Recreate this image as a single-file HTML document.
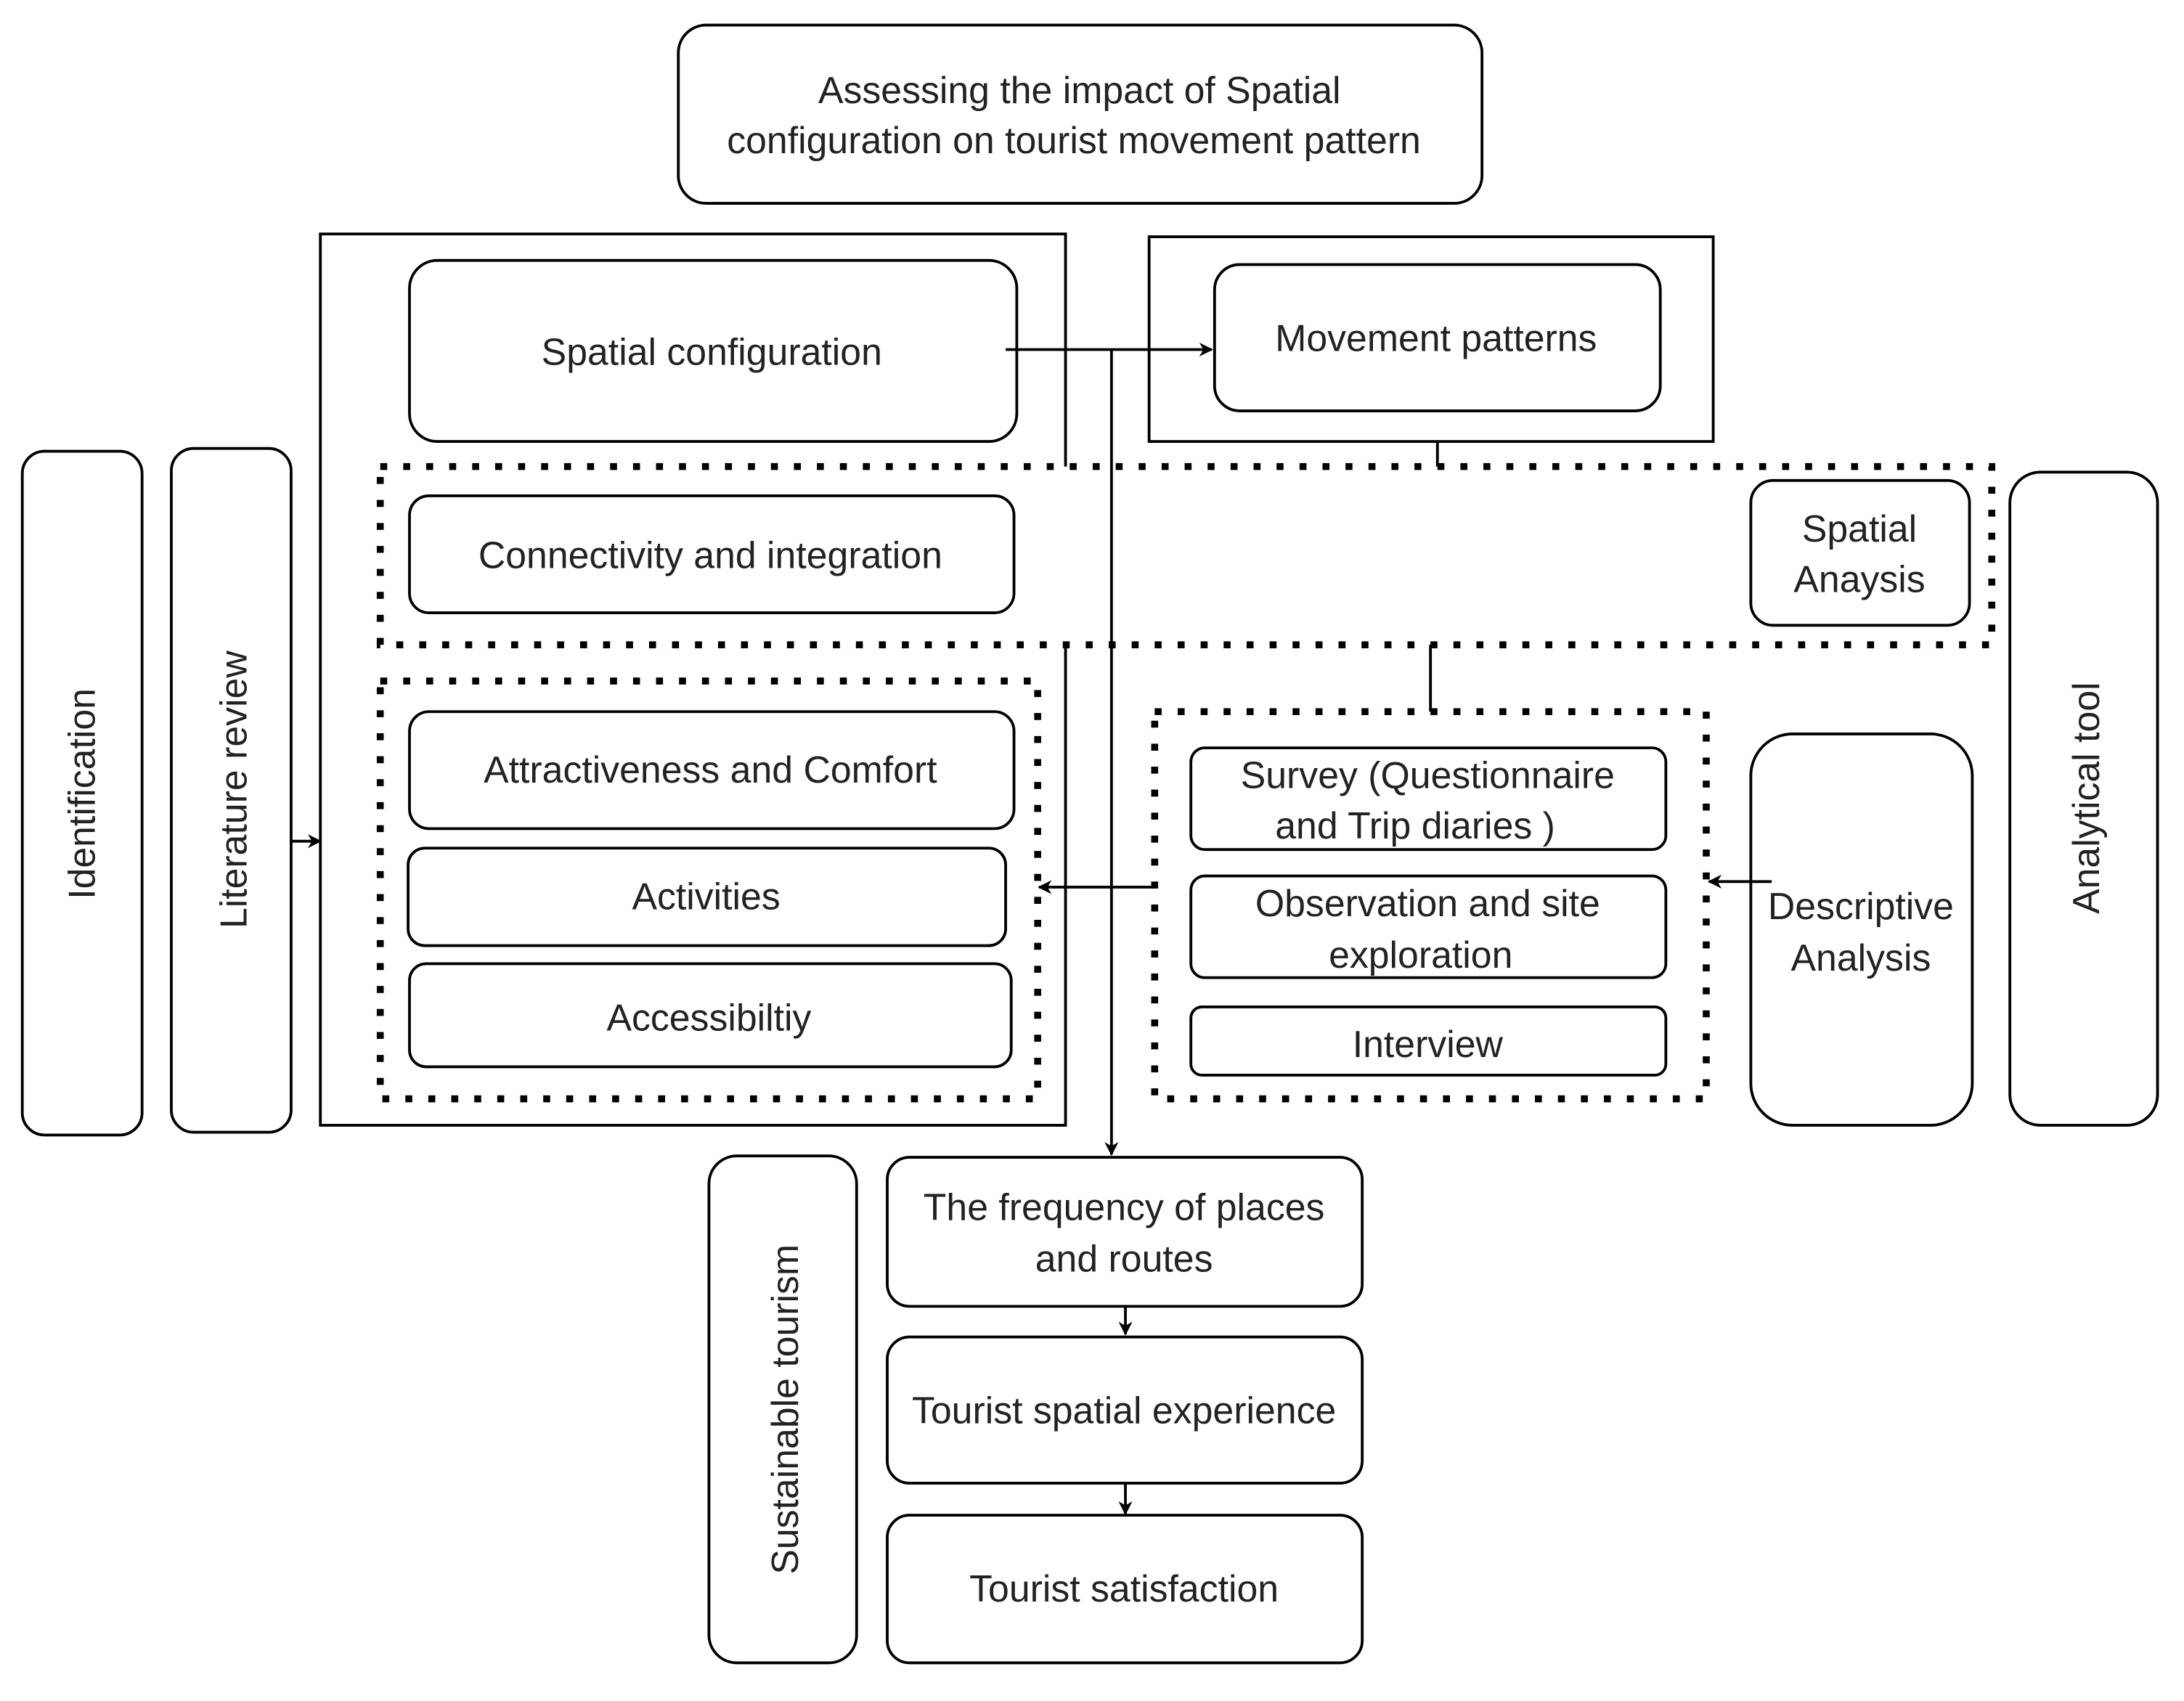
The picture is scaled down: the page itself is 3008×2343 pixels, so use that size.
<!DOCTYPE html>
<html><head><meta charset="utf-8"><style>
html,body{margin:0;padding:0;background:#fff;}
svg{display:block;}
text{font-family:"Liberation Sans",Arial,sans-serif;font-size:27px;fill:#222;text-anchor:middle;}
</style></head><body>
<svg width="3008" height="2343" viewBox="0 0 1568 1221.4" preserveAspectRatio="none" xmlns="http://www.w3.org/2000/svg">
<defs><marker id="a" markerWidth="10" markerHeight="10" refX="9" refY="5" orient="auto" markerUnits="userSpaceOnUse"><path d="M0,0 L10,5 L0,10 L3,5 Z" fill="#000"/></marker></defs>
<g fill="none" stroke="#000" stroke-width="2">
<rect x="487" y="18" width="577" height="128" rx="20" fill="#fff"/>
<rect x="230" y="168" width="535" height="640"/>
<rect x="294" y="187" width="436" height="130" rx="20" fill="#fff"/>
<rect x="825" y="170" width="405" height="147"/>
<rect x="872" y="190" width="320" height="105" rx="18" fill="#fff"/>
<line x1="1032" y1="317" x2="1032" y2="335"/>
<rect x="273" y="335" width="1157" height="128" fill="#fff" stroke-width="5" stroke-dasharray="5 11.5"/>
<rect x="294" y="356" width="434" height="84" rx="14" fill="#fff"/>
<rect x="1257" y="345" width="157" height="104" rx="16" fill="#fff"/>
<line x1="1027" y1="463" x2="1027" y2="511"/>
<rect x="273" y="489" width="472" height="300" stroke-width="5" stroke-dasharray="5 11.5"/>
<rect x="294" y="511" width="434" height="84" rx="14" fill="#fff"/>
<rect x="293" y="609" width="429" height="70" rx="12" fill="#fff"/>
<rect x="294" y="692" width="432" height="74" rx="12" fill="#fff"/>
<rect x="829" y="511" width="396" height="278" stroke-width="5" stroke-dasharray="5 11.5"/>
<rect x="855" y="537" width="341" height="73" rx="10" fill="#fff"/>
<rect x="855" y="629" width="341" height="73" rx="10" fill="#fff"/>
<rect x="855" y="723" width="341" height="49" rx="8" fill="#fff"/>
<rect x="1257" y="527" width="159" height="281" rx="30" fill="#fff"/>
<rect x="1443" y="339" width="106" height="469" rx="22" fill="#fff"/>
<rect x="16" y="324" width="86" height="491" rx="16" fill="#fff"/>
<rect x="123" y="322" width="86" height="491" rx="16" fill="#fff"/>
<rect x="509" y="830" width="106" height="364" rx="20" fill="#fff"/>
<rect x="637" y="831" width="341" height="107" rx="16" fill="#fff"/>
<rect x="637" y="960" width="341" height="105" rx="16" fill="#fff"/>
<rect x="637" y="1088" width="341" height="106" rx="16" fill="#fff"/>
<line x1="722" y1="251" x2="870" y2="251" marker-end="url(#a)"/>
<line x1="798" y1="251" x2="798" y2="829" marker-end="url(#a)"/>
<line x1="829" y1="637" x2="746" y2="637" marker-end="url(#a)"/>
<line x1="1272" y1="633" x2="1227" y2="633" marker-end="url(#a)"/>
<line x1="209" y1="604" x2="230" y2="604" marker-end="url(#a)"/>
<line x1="808" y1="938" x2="808" y2="958" marker-end="url(#a)"/>
<line x1="808" y1="1065" x2="808" y2="1087" marker-end="url(#a)"/>
</g>
<text x="775" y="74">Assessing the impact of Spatial</text>
<text x="771" y="110">configuration on tourist  movement pattern</text>
<text x="511" y="262">Spatial configuration</text>
<text x="1031" y="252">Movement patterns</text>
<text x="510" y="408">Connectivity and integration</text>
<text x="1335" y="389">Spatial</text>
<text x="1335" y="425">Anaysis</text>
<text x="510" y="562">Attractiveness and Comfort</text>
<text x="507" y="653">Activities</text>
<text x="509" y="740">Accessibiltiy</text>
<text x="1025" y="566">Survey (Questionnaire</text>
<text x="1016" y="602">and Trip diaries )</text>
<text x="1025" y="658">Observation and site</text>
<text x="1020" y="695">exploration</text>
<text x="1025" y="759">Interview</text>
<text x="1336" y="660">Descriptive</text>
<text x="1336" y="697">Analysis</text>
<text x="807" y="876">The frequency of places</text>
<text x="807" y="913">and routes</text>
<text x="807" y="1022">Tourist spatial experience</text>
<text x="807" y="1150">Tourist satisfaction</text>
<text transform="translate(68,570) rotate(-90)">Identification</text>
<text transform="translate(177,567) rotate(-90)">Literature review</text>
<text transform="translate(1507,573) rotate(-90)">Analytical tool</text>
<text transform="translate(573,1012) rotate(-90)">Sustainable tourism</text>
</svg>
</body></html>
